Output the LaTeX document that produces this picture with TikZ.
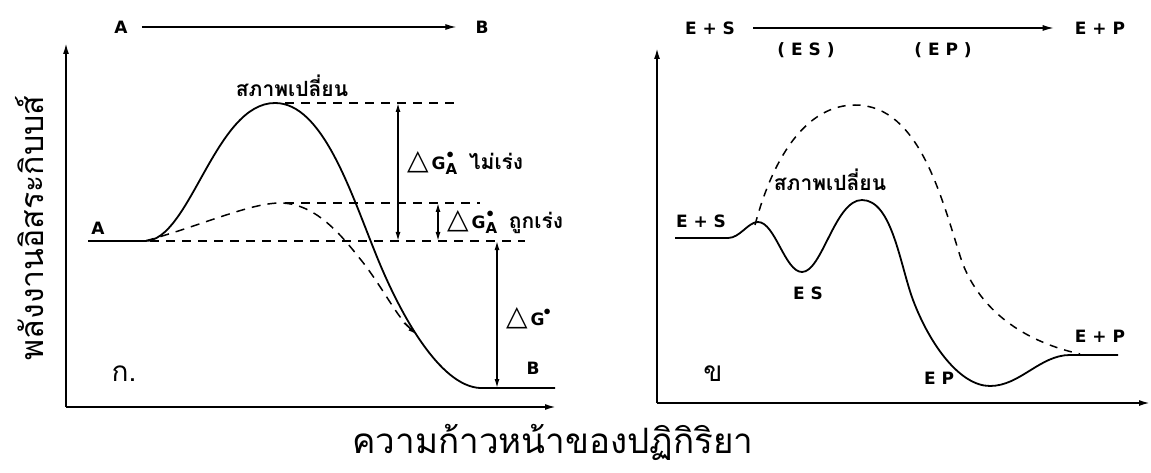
\documentclass[tikz,border=0pt]{standalone}
\usepackage{fontspec}
\newfontfamily\thai[Script=Thai]{Loma}
\newfontfamily\lat{DejaVu Sans}
\usetikzlibrary{arrows.meta}
\newcommand{\dg}[1]{{\fontsize{28}{28}\selectfont △}\,{\fontsize{17}{17}\selectfont G}\raisebox{1ex}{\hspace{-1pt}\fontsize{14}{14}\selectfont$\bullet$}#1}
\newcommand{\dgA}{{\fontsize{28}{28}\selectfont △}\,{\fontsize{17}{17}\selectfont G}\rlap{\raisebox{1.2ex}{\hspace{1pt}\fontsize{14}{14}\selectfont$\bullet$}}\raisebox{-0.6ex}{\fontsize{15}{15}\selectfont\bfseries A}}
\tikzset{
  ln/.style={line width=1.8pt},
  dsh/.style={line width=1.5pt, dash pattern=on 9pt off 7pt},
  ax/.style={line width=1.8pt, -{Latex[length=11pt,width=6pt]}},
  dbl/.style={line width=1.4pt, {Latex[length=9pt,width=5pt]}-{Latex[length=9pt,width=5pt]}},
  lbl/.style={font=\lat\bfseries\fontsize{17}{19}\selectfont, inner sep=1pt},
  tlbl/.style={font=\thai\bfseries\fontsize{21}{24}\selectfont, inner sep=1pt},
}
\begin{document}
\begin{tikzpicture}[x=1pt,y=-1pt]
\useasboundingbox (0,0) rectangle (1151,473);
\fill[white] (0,0) rectangle (1151,473);

% ===== left panel =====
\node[lbl] (tA) at (121,27) {A};
\node[lbl] (tB) at (482,27) {B};
\draw[ax, line width=1.3pt] ([xshift=13pt]tA.east) -- ([xshift=-18pt]tB.west);

\coordinate (lo) at (66,407);
\coordinate (ly) at (66,43);
\coordinate (lx) at (556,407);
\draw[ax] (lo) -- (ly);
\draw[ax] (lo) -- (lx);

\node[tlbl, rotate=90, font=\thai\fontsize{32}{34}\selectfont] (ylab) at (30,228) {พลังงานอิสระกิบบส์};

% curves
\draw[ln] (88,241) -- (145,241) .. controls (190,241) and (215,103) .. (275,103)
  .. controls (322,103) and (350,190) .. (375,252)
  .. controls (400,315) and (440,386) .. (480,388) -- (555,388);
\draw[dsh] (145,241) .. controls (200,226) and (250,203) .. (280,203)
  .. controls (318,203) and (345,240) .. (365,265)
  .. controls (385,292) and (398,318) .. (410,328);
\draw[line width=1.2pt, -{Latex[length=8pt,width=5pt]}] (404,323) -- (416,334);

% dashed levels
\draw[dsh] (285,103) -- (457,103);
\draw[dsh] (285,203) -- (480,203);
\draw[dsh] (150,241) -- (525,241);

\coordinate (t1) at (398,103);
\coordinate (b1) at (398,241);
\draw[dbl] (t1) -- (b1);
\coordinate (t2) at (438,203);
\coordinate (b2) at (438,241);
\draw[dbl] (t2) -- (b2);
\coordinate (t3) at (497,241);
\coordinate (b3) at (497,388);
\draw[dbl] (t3) -- (b3);

\node[tlbl] (ts1) at (292,86) {สภาพเปลี่ยน};
\node[lbl, anchor=west] (g1) at (406,163) {\dgA\ \ {\thai\bfseries\fontsize{21}{24}\selectfont ไม่เร่ง}};
\node[lbl, anchor=west] (g2) at (446,222) {\dgA\ \ {\thai\bfseries\fontsize{21}{24}\selectfont ถูกเร่ง}};
\node[lbl, anchor=west] (g3) at (505,318) {\dg{}};
\node[lbl] (lA) at (98,228) {A};
\node[lbl] (lB) at (533,368) {B};
\node[tlbl, font=\thai\fontsize{28}{30}\selectfont] (kk) at (124,374) {ก.};

% ===== right panel =====
\node[lbl] (tES) at (710,28) {E + S};
\node[lbl] (tEP) at (1100,28) {E + P};
\draw[ax, line width=1.3pt] ([xshift=17pt]tES.east) -- ([xshift=-20pt]tEP.west);
\node[lbl] (pES) at (806,50) {( E S )};
\node[lbl] (pEP) at (943,50) {( E P )};

\coordinate (ro) at (657,403);
\coordinate (ry) at (657,48);
\coordinate (rx) at (1150,403);
\draw[ax] (ro) -- (ry);
\draw[ax] (ro) -- (rx);

\draw[ln] (675,238) -- (728,238) .. controls (740,238) and (748,222) .. (758,222)
  .. controls (775,222) and (785,272) .. (802,272)
  .. controls (822,272) and (835,200) .. (862,200)
  .. controls (892,200) and (900,265) .. (913,300)
  .. controls (930,345) and (960,386) .. (990,386)
  .. controls (1020,386) and (1040,355) .. (1070,355) -- (1118,355);
\draw[dsh, dash pattern=on 8pt off 7pt] (755,225) .. controls (775,150) and (810,105) .. (855,105)
  .. controls (920,105) and (942,200) .. (962,262)
  .. controls (985,322) and (1040,345) .. (1080,354);

\node[lbl] (rES0) at (701,221) {E + S};
\node[lbl] (rES) at (808,293) {E S};
\node[tlbl] (ts2) at (830,180) {สภาพเปลี่ยน};
\node[lbl] (rEP) at (939,378) {E P};
\node[lbl] (rEP2) at (1100,336) {E + P};
\node[tlbl, font=\thai\fontsize{28}{30}\selectfont] (kh) at (713,374) {ข};

% bottom label
\node[tlbl, font=\thai\fontsize{35}{38}\selectfont] (xl) at (553,442) {ความก้าวหน้าของปฏิกิริยา};
\end{tikzpicture}
\end{document}
